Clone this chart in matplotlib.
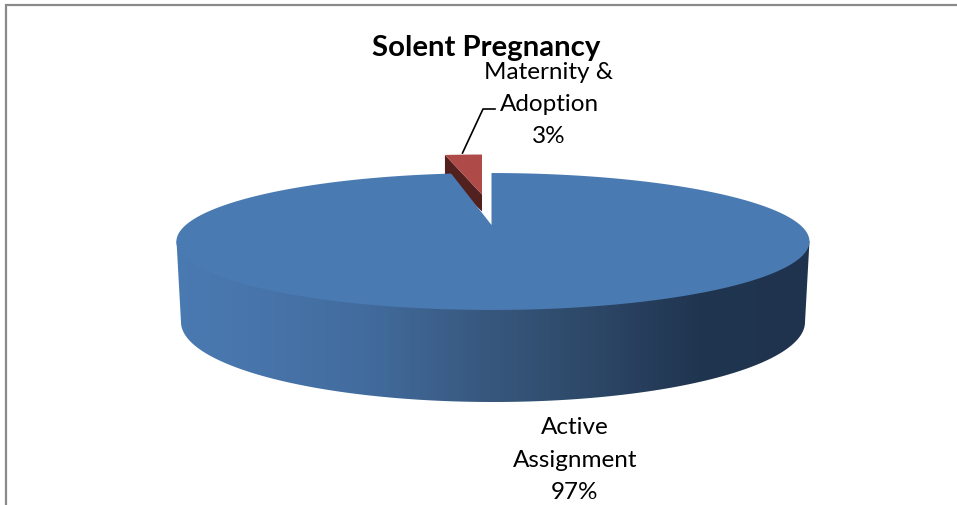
import numpy as np
import matplotlib
matplotlib.use("Agg")
import matplotlib.pyplot as plt
from matplotlib.colors import LinearSegmentedColormap
from matplotlib.patches import Polygon

title = "Solent Pregnancy"
categories = ["Active\nAssignment", "Maternity &\nAdoption"]
values = [97.4, 2.6]
percent_labels = ["97%", "3%"]

plt.rcParams['font.family'] = ['Lato', 'DejaVu Sans']
W, H = 957, 506
fig = plt.figure(figsize=(W / 100, H / 100), dpi=100, facecolor='white')
ax = fig.add_axes([0, 0, 1, 1])
ax.set_xlim(0, W)
ax.set_ylim(H, 0)
ax.axis('off')

BLUE_TOP = '#4a7ab2'
RED_TOP = '#ae4b48'
RED_SIDE = '#52201f'
K = 0.241


def project(theta, apex, bx, ay):
    d = 1 + K * np.cos(theta)
    return apex[0] + bx * np.sin(theta) / d, apex[1] - ay * np.cos(theta) / d


# frame
ax.plot([6, 6, W], [H, 6, 6], color='#8a8a8a', lw=1.6, solid_joinstyle='miter', zorder=1)

# slice angles from the data (clockwise from 12 o'clock)
total = sum(values)
blue_end = 2 * np.pi * values[0] / total
blue_theta = np.linspace(0, blue_end, 400)
red_theta = np.linspace(blue_end, 2 * np.pi, 30)

# exploded red slice
red_apex = (482, 195.5)
rx, ry = project(red_theta, red_apex, 282, 49.6)
depth = 17
ax.add_patch(Polygon([(rx[0], ry[0]), red_apex, (red_apex[0], red_apex[1] + depth),
                      (rx[0], ry[0] + depth + 4)], closed=True, fc=RED_SIDE, ec='none', zorder=2))
ax.add_patch(Polygon(np.column_stack([np.r_[red_apex[0], rx], np.r_[red_apex[1], ry]]),
                     closed=True, fc=RED_TOP, ec='none', zorder=3))

# wall of the blue slice with horizontal shading
cx, rx_top = 493, 316.5
cy_bot, rx_bot, ry_bot = 323, 312, 80
t = np.linspace(0, np.pi, 300)
wall_x = np.r_[cx - rx_top, cx - rx_bot * np.cos(t), cx + rx_top]
wall_y = np.r_[242, cy_bot + ry_bot * np.sin(t), 242]
wall = Polygon(np.column_stack([wall_x, wall_y]), closed=True, fc='none', ec='none', zorder=4)
ax.add_patch(wall)
cmap = LinearSegmentedColormap.from_list('wall', [
    (0.00, '#4a7ab2'), (0.12, '#4875ac'), (0.30, '#426c9e'), (0.48, '#38597f'),
    (0.65, '#2d4868'), (0.82, '#203550'), (1.00, '#1f334e')])
img = ax.imshow(np.linspace(0, 1, 512)[None, :], extent=(170, 815, 410, 230), cmap=cmap,
                aspect='auto', interpolation='bilinear', zorder=4)
img.set_clip_path(wall)
ax.set_xlim(0, W)
ax.set_ylim(H, 0)

# top face of the blue slice
blue_apex = (491.5, 226)
bx, by = project(blue_theta, blue_apex, 307.2, 64.5)
bx = bx + 1.5 * np.sin(blue_theta) ** 2
ax.add_patch(Polygon(np.column_stack([np.r_[blue_apex[0], bx], np.r_[blue_apex[1], by]]),
                     closed=True, fc=BLUE_TOP, ec='none', zorder=5))

# leader line
ax.plot([462.5, 483, 495], [154, 110, 110], color='black', lw=1.2, zorder=6)

# text
ax.text(486, 48, title, fontsize=21.2, fontweight='bold', ha='center', va='center', color='black', zorder=7)
lab_font = dict(fontsize=17.5, ha='center', va='center', color='black', zorder=7)
for i, (line_x, y0) in enumerate([(575, 428), (549, 72)]):
    lines = categories[i].split('\n') + [percent_labels[i]]
    for j, s in enumerate(lines):
        ax.text(line_x, y0 + j * 32.2, s, **lab_font)

fig.savefig('out.png', dpi=100)
